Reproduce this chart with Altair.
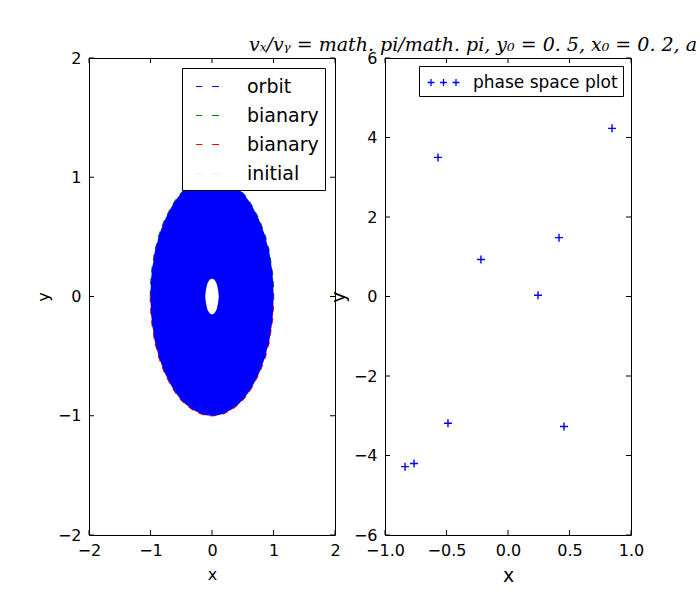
import altair as alt
import pandas as pd

# ---------------- data ----------------
# left panel: outline of the filled orbit region (half-widths at y levels)
orbit_y = [-1.0, -0.995, -0.99, -0.98, -0.95, -0.9, -0.85, -0.8, -0.75, -0.7, -0.65, -0.6,
           -0.55, -0.5, -0.45, -0.4, -0.35, -0.3, -0.25, -0.2, -0.15, -0.1, -0.05, 0.0,
           0.05, 0.1, 0.15, 0.2, 0.25, 0.3, 0.35, 0.4, 0.45, 0.5, 0.55, 0.6, 0.65, 0.7,
           0.75, 0.8, 0.85, 0.9, 0.95, 0.98, 0.99, 0.995, 1.0]
orbit_hw = [0.0, 0.1, 0.14, 0.2, 0.31, 0.44, 0.53, 0.6, 0.66, 0.71, 0.76, 0.8,
            0.835, 0.87, 0.89, 0.92, 0.94, 0.95, 0.97, 0.98, 0.99, 0.995, 0.999, 1.0,
            0.999, 0.995, 0.99, 0.98, 0.97, 0.95, 0.94, 0.92, 0.89, 0.87, 0.835, 0.8, 0.76, 0.71,
            0.66, 0.6, 0.53, 0.44, 0.31, 0.2, 0.14, 0.1, 0.0]
# empty hole in the middle of the orbit
hole_y = [-0.15, -0.14, -0.12, -0.1, -0.05, 0.0, 0.05, 0.1, 0.12, 0.14, 0.15]
hole_hw = [0.0, 0.04, 0.065, 0.08, 0.1, 0.11, 0.1, 0.08, 0.065, 0.04, 0.0]

left_xticks = [-2, -1, 0, 1, 2]
left_yticks = [-2, -1, 0, 1, 2]
left_series = ["orbit", "bianary", "bianary ", "initial"]
left_colors = ["#0000ff", "#008000", "#ff0000", "#eeeeee"]

# right panel: phase space points
phase_x = [-0.837, -0.764, -0.569, -0.488, -0.220, 0.244, 0.415, 0.455, 0.846]
phase_y = [-4.28, -4.20, 3.50, -3.19, 0.93, 0.03, 1.48, -3.27, 4.23]
right_xticks = [-1.0, -0.5, 0.0, 0.5, 1.0]
right_yticks = [-6, -4, -2, 0, 2, 4, 6]
right_series = ["phase space plot"]

title_text = "vₓ/vᵧ = math. pi/math. pi, y₀ = 0. 5, x₀ = 0. 2, a"

# ---------------- tables ----------------
W, H = 246, 477
TL = 5  # inner tick length (px)

orbit_df = pd.DataFrame({"y": orbit_y, "xl": [-h for h in orbit_hw], "xr": orbit_hw})
hole_df = pd.DataFrame({"y": hole_y, "xl": [-h for h in hole_hw], "xr": hole_hw})

rows = []
pos = [(y, h) for y, h in zip(orbit_y, orbit_hw) if y >= 0]
path = [(-h, y) for y, h in pos] + [(h, y) for y, h in reversed(pos)]
for i, (x, y) in enumerate(path):
    rows.append({"x": x, "y": y, "o": i, "series": "bianary"})
neg = [(y, h) for y, h in zip(orbit_y, orbit_hw) if y <= 0]
path = [(-h, y) for y, h in reversed(neg)] + [(h, y) for y, h in neg]
for i, (x, y) in enumerate(path):
    rows.append({"x": x, "y": y, "o": i, "series": "bianary "})
bound_df = pd.DataFrame(rows)

phase_df = pd.DataFrame({"x": phase_x, "y": phase_y, "lab": right_series[0]})

MINUS = "replace(datum.label, '-', '\u2212')"


def inner_ticks(xvals, yvals, xs, ys, xax, yax):
    xd = pd.DataFrame({"x": xvals})
    yd = pd.DataFrame({"y": yvals})
    b = alt.Chart(xd).mark_rule(color="black", strokeWidth=1).encode(
        x=alt.X("x:Q", scale=xs, axis=xax), y=alt.value(H), y2=alt.value(H - TL))
    t = alt.Chart(xd).mark_rule(color="black", strokeWidth=1).encode(
        x=alt.X("x:Q", scale=xs, axis=xax), y=alt.value(0), y2=alt.value(TL))
    l = alt.Chart(yd).mark_rule(color="black", strokeWidth=1).encode(
        y=alt.Y("y:Q", scale=ys, axis=yax), x=alt.value(0), x2=alt.value(TL))
    r = alt.Chart(yd).mark_rule(color="black", strokeWidth=1).encode(
        y=alt.Y("y:Q", scale=ys, axis=yax), x=alt.value(W), x2=alt.value(W - TL))
    return [b, t, l, r]


# ---------------- left panel ----------------
xs_l = alt.Scale(domain=[-2, 2], nice=False, zero=False)
ys_l = alt.Scale(domain=[-2, 2], nice=False, zero=False)

xax_l = alt.Axis(values=left_xticks, format="d", labelExpr=MINUS, title="x",
                 titleFontSize=16, titleY=39, titleBaseline="middle",
                 labelFlush=False, labelOverlap=False,
                 labelPadding=7, ticks=False, domain=False, grid=False)
yax_l = alt.Axis(values=left_yticks, format="d", labelExpr=MINUS, title="y",
                 titleFontSize=16, titleX=-46, titleY=H / 2, titleBaseline="middle",
                 labelFlush=False, labelOverlap=False,
                 labelPadding=8, ticks=False, domain=False, grid=False)

bound_lines = alt.Chart(bound_df).mark_line(strokeDash=[6, 6], strokeWidth=1.5).encode(
    x=alt.X("x:Q", scale=xs_l, axis=xax_l),
    y=alt.Y("y:Q", scale=ys_l, axis=yax_l),
    order="o:Q",
    detail="series:N",
    color=alt.Color("series:N",
                    scale=alt.Scale(domain=left_series, range=left_colors),
                    legend=alt.Legend(title=None, orient="top-right", offset=10,
                                      strokeColor="black", fillColor="white",
                                      padding=6, cornerRadius=0,
                                      labelFontSize=19, labelColor="black",
                                      labelLimit=300,
                                      symbolType="M-1,0H-0.45M0.4,0H1",
                                      symbolSize=529, symbolStrokeWidth=1.2,
                                      labelOffset=27, rowPadding=6,
                                      symbolOffset=7)),
)

orbit_area = alt.Chart(orbit_df).mark_area(orient="horizontal", color="#0000ff").encode(
    y=alt.Y("y:Q", scale=ys_l, axis=yax_l), x=alt.X("xl:Q", scale=xs_l, axis=xax_l), x2="xr:Q")
hole_area = alt.Chart(hole_df).mark_area(orient="horizontal", color="#ffffff").encode(
    y=alt.Y("y:Q", scale=ys_l, axis=yax_l), x=alt.X("xl:Q", scale=xs_l, axis=xax_l), x2="xr:Q")

left = alt.layer(bound_lines, orbit_area, hole_area,
                 *inner_ticks(left_xticks, left_yticks, xs_l, ys_l, xax_l, yax_l)
                 ).properties(width=W, height=H)

# ---------------- right panel ----------------
xs_r = alt.Scale(domain=[-1, 1], nice=False, zero=False)
ys_r = alt.Scale(domain=[-6, 6], nice=False, zero=False)

xax_r = alt.Axis(values=right_xticks, format=".1f", labelExpr=MINUS, title="x",
                 titleFontSize=19, titleY=40, titleBaseline="middle",
                 labelFlush=False, labelOverlap=False,
                 labelPadding=7, ticks=False, domain=False, grid=False)
yax_r = alt.Axis(values=right_yticks, format="d", labelExpr=MINUS, title="y",
                 titleFontSize=19, titleX=-47, titleY=H / 2, titleBaseline="middle",
                 labelFlush=False, labelOverlap=False,
                 labelPadding=8, ticks=False, domain=False, grid=False)

PLUS = "M-1,0L1,0M0,-1L0,1"
PLUS3 = ("M-1.52,0H-0.86M-1.19,-0.33V0.33"
         "M-0.33,0H0.33M0,-0.33V0.33"
         "M0.86,0H1.52M1.19,-0.33V0.33")

points = alt.Chart(phase_df).mark_point(shape=PLUS, size=64, filled=False,
                                        strokeWidth=1.4, opacity=1).encode(
    x=alt.X("x:Q", scale=xs_r, axis=xax_r),
    y=alt.Y("y:Q", scale=ys_r, axis=yax_r),
    color=alt.Color("lab:N",
                    scale=alt.Scale(domain=right_series, range=["#0000ff"]),
                    legend=alt.Legend(title=None, orient="top-right", offset=8,
                                      strokeColor="black", fillColor="white",
                                      padding=5, cornerRadius=0,
                                      labelFontSize=17, labelColor="black",
                                      labelLimit=300,
                                      symbolType=PLUS3, symbolSize=441,
                                      symbolStrokeWidth=1.3,
                                      labelOffset=18, symbolOffset=8)),
)

title_df = pd.DataFrame({"t": [title_text]})
title_mark = alt.Chart(title_df).mark_text(
    align="left", baseline="alphabetic", font="DejaVu Serif", fontStyle="italic",
    fontSize=19, color="black", limit=448, ellipsis="").encode(
    text="t:N", x=alt.value(-136), y=alt.value(-7))

right = alt.layer(points, title_mark,
                  *inner_ticks(right_xticks, right_yticks, xs_r, ys_r, xax_r, yax_r)
                  ).properties(width=W, height=H)

chart = alt.hconcat(left, right, spacing=50, bounds="flush").resolve_scale(
    color="independent").resolve_legend(color="independent").properties(
    padding={"left": 34, "top": 35, "right": 0, "bottom": 0},
    background="white",
).configure_view(stroke="black", strokeWidth=1).configure_axis(
    labelFont="DejaVu Sans", titleFont="DejaVu Sans", labelFontSize=16,
    labelColor="black", titleColor="black", titleFontWeight="normal",
).configure_legend(labelFont="DejaVu Sans")

chart.save("out.html", embed_options={"renderer": "svg", "actions": False})
